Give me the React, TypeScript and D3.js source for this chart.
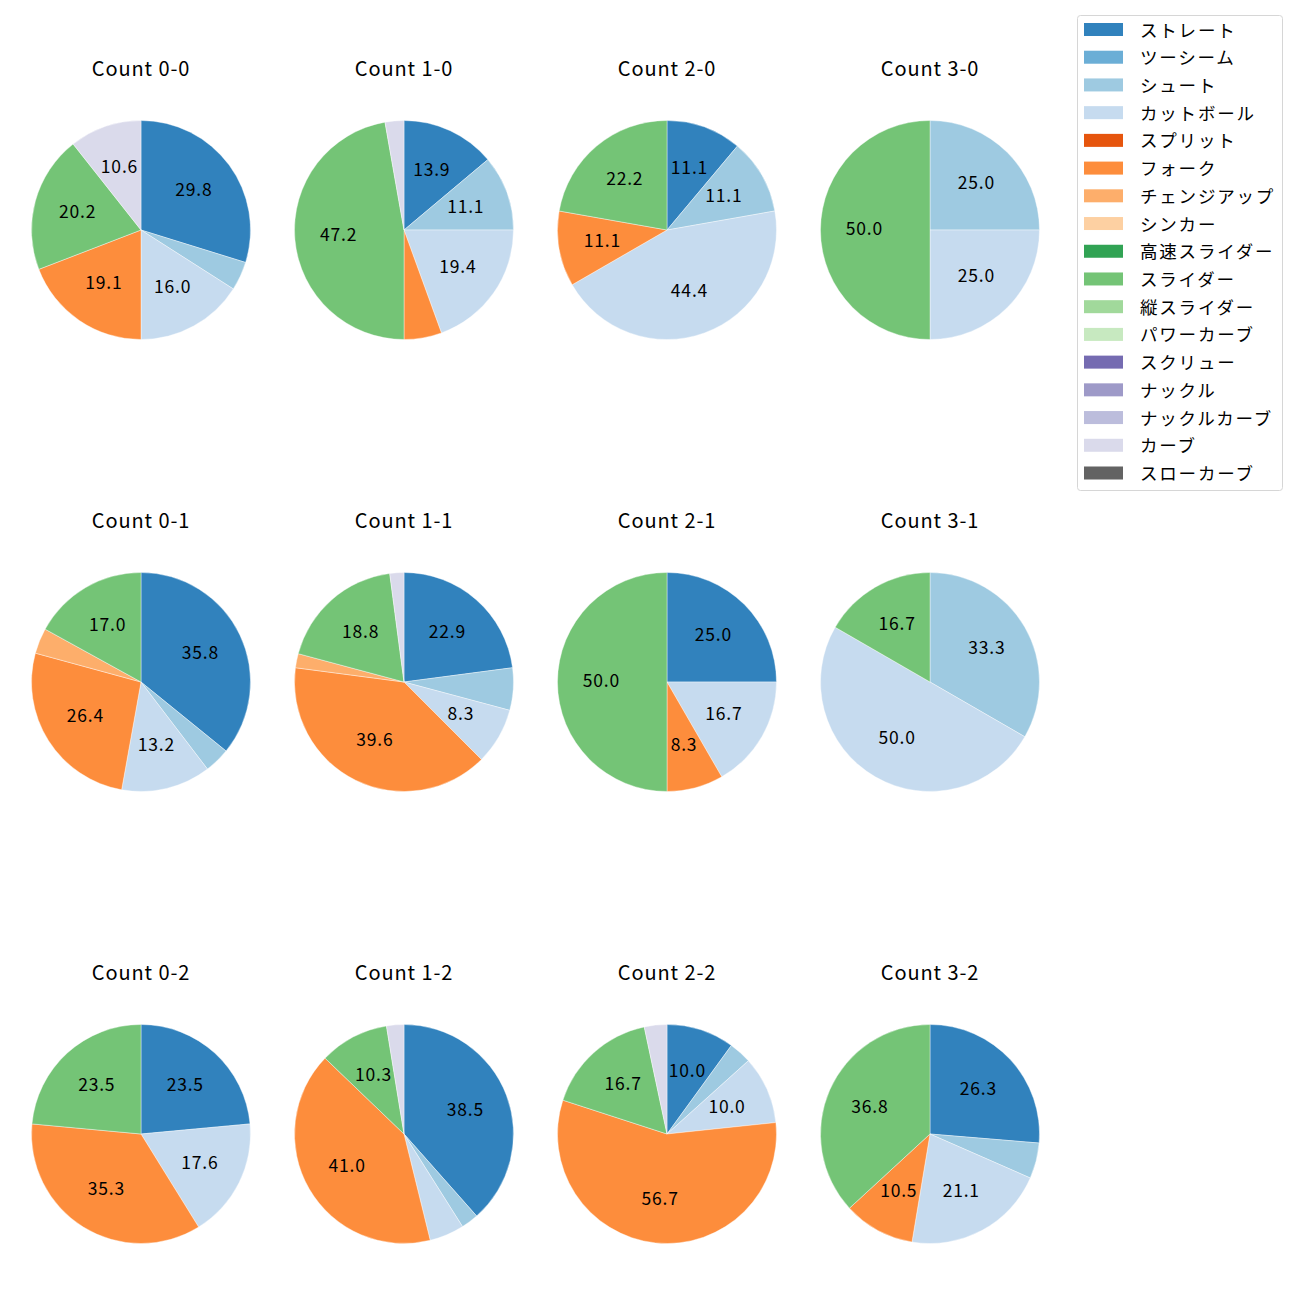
import { useRef, useEffect } from 'react';
import * as d3 from 'd3';

const PITCH_TYPES = [
  'ストレート', 'ツーシーム', 'シュート', 'カットボール', 'スプリット', 'フォーク',
  'チェンジアップ', 'シンカー', '高速スライダー', 'スライダー', '縦スライダー',
  'パワーカーブ', 'スクリュー', 'ナックル', 'ナックルカーブ', 'カーブ', 'スローカーブ',
];

const PITCH_COLORS = [
  '#3182bd', '#6baed6', '#9ecae1', '#c6dbef', '#e6550d', '#fd8d3c',
  '#fdae6b', '#fdd0a2', '#31a354', '#74c476', '#a1d99b',
  '#c7e9c0', '#756bb1', '#9e9ac8', '#bcbddc', '#dadaeb', '#636363',
];

// pitch counts per ball-strike count, same order as PITCH_TYPES
//                 St Two Shu Cut Spl For Chg Sin HSl Sli VSl PCu Scr Knu KCu Cur SCu
const COUNT_0_0 = [28, 0, 4, 15, 0, 18, 0, 0, 0, 19, 0, 0, 0, 0, 0, 10, 0];
const COUNT_1_0 = [5, 0, 4, 7, 0, 2, 0, 0, 0, 17, 0, 0, 0, 0, 0, 1, 0];
const COUNT_2_0 = [1, 0, 1, 4, 0, 1, 0, 0, 0, 2, 0, 0, 0, 0, 0, 0, 0];
const COUNT_3_0 = [0, 0, 1, 1, 0, 0, 0, 0, 0, 2, 0, 0, 0, 0, 0, 0, 0];
const COUNT_0_1 = [19, 0, 2, 7, 0, 14, 2, 0, 0, 9, 0, 0, 0, 0, 0, 0, 0];
const COUNT_1_1 = [11, 0, 3, 4, 0, 19, 1, 0, 0, 9, 0, 0, 0, 0, 0, 1, 0];
const COUNT_2_1 = [3, 0, 0, 2, 0, 1, 0, 0, 0, 6, 0, 0, 0, 0, 0, 0, 0];
const COUNT_3_1 = [0, 0, 2, 3, 0, 0, 0, 0, 0, 1, 0, 0, 0, 0, 0, 0, 0];
const COUNT_0_2 = [4, 0, 0, 3, 0, 6, 0, 0, 0, 4, 0, 0, 0, 0, 0, 0, 0];
const COUNT_1_2 = [15, 0, 1, 2, 0, 16, 0, 0, 0, 4, 0, 0, 0, 0, 0, 1, 0];
const COUNT_2_2 = [3, 0, 1, 3, 0, 17, 0, 0, 0, 5, 0, 0, 0, 0, 0, 1, 0];
const COUNT_3_2 = [5, 0, 1, 4, 0, 2, 0, 0, 0, 7, 0, 0, 0, 0, 0, 0, 0];

const PANELS = [
  { title: 'Count 0-0', values: COUNT_0_0 },
  { title: 'Count 1-0', values: COUNT_1_0 },
  { title: 'Count 2-0', values: COUNT_2_0 },
  { title: 'Count 3-0', values: COUNT_3_0 },
  { title: 'Count 0-1', values: COUNT_0_1 },
  { title: 'Count 1-1', values: COUNT_1_1 },
  { title: 'Count 2-1', values: COUNT_2_1 },
  { title: 'Count 3-1', values: COUNT_3_1 },
  { title: 'Count 0-2', values: COUNT_0_2 },
  { title: 'Count 1-2', values: COUNT_1_2 },
  { title: 'Count 2-2', values: COUNT_2_2 },
  { title: 'Count 3-2', values: COUNT_3_2 },
];

const FONT = '"Noto Sans CJK JP", "Noto Sans", sans-serif';

export default function App() {
  const svgRef = useRef<SVGSVGElement>(null);

  useEffect(() => {
    if (!svgRef.current) return;
    const width = 1300;
    const height = 1300;
    const svg = d3.select(svgRef.current);
    svg.selectAll('*').remove();
    svg.attr('width', width).attr('height', height).attr('viewBox', `0 0 ${width} ${height}`);

    const colX = d3.scalePoint<number>().domain([0, 1, 2, 3]).range([141, 930]);
    const rowY = d3.scalePoint<number>().domain([0, 1, 2]).range([230, 1134]);
    const r = 109.5;

    const pie = d3.pie<number>().sort(null).value(d => d);
    const arc = d3.arc<d3.PieArcDatum<number>>().innerRadius(0).outerRadius(r);

    PANELS.forEach((panel, i) => {
      const cx = colX(i % 4) ?? 0;
      const cy = rowY(Math.floor(i / 4)) ?? 0;
      const total = d3.sum(panel.values);
      const arcs = pie(panel.values).map((a, k) => ({ ...a, k })).filter(a => a.value > 0);

      const g = svg.append('g').attr('transform', `translate(${cx},${cy})`);

      g.selectAll('path')
        .data(arcs)
        .join('path')
        .attr('d', d => arc(d) ?? '')
        .attr('fill', d => PITCH_COLORS[d.k])
        .attr('stroke', '#fff')
        .attr('stroke-width', 0.4);

      // percentage labels, small slices left unlabeled
      g.selectAll('text.pct')
        .data(arcs.filter(d => (d.value / total) * 100 >= 7))
        .join('text')
        .attr('class', 'pct')
        .attr('x', d => Math.sin((d.startAngle + d.endAngle) / 2) * r * 0.6)
        .attr('y', d => -Math.cos((d.startAngle + d.endAngle) / 2) * r * 0.6)
        .attr('dy', '0.3em')
        .attr('text-anchor', 'middle')
        .attr('font-family', FONT)
        .attr('font-size', '17.5px')
        .attr('letter-spacing', '0.8px')
        .attr('fill', '#000')
        .text(d => ((d.value / total) * 100).toFixed(1));

      svg.append('text')
        .attr('x', cx)
        .attr('y', cy - 161)
        .attr('dy', '0.36em')
        .attr('text-anchor', 'middle')
        .attr('font-family', FONT)
        .attr('font-size', '20px')
        .attr('letter-spacing', '0.9px')
        .attr('fill', '#000')
        .text(panel.title);
    });

    // Legend
    const legend = svg.append('g');
    legend.append('rect')
      .attr('x', 1077.5).attr('y', 15.5)
      .attr('width', 205).attr('height', 475)
      .attr('rx', 3)
      .attr('fill', '#fff')
      .attr('stroke', '#d6d6d6');

    const ly = d3.scaleLinear().domain([0, PITCH_TYPES.length - 1]).range([29.5, 473]);
    PITCH_TYPES.forEach((name, k) => {
      legend.append('rect')
        .attr('x', 1084).attr('y', ly(k) - 6.5)
        .attr('width', 39).attr('height', 13)
        .attr('fill', PITCH_COLORS[k]);
      legend.append('text')
        .attr('x', 1140).attr('y', ly(k) - 0.5)
        .attr('dominant-baseline', 'central')
        .attr('font-family', FONT)
        .attr('font-size', '17.5px')
        .attr('letter-spacing', '1.8px')
        .attr('fill', '#000')
        .text(name);
    });
  }, []);

  return <svg ref={svgRef} style={{ position: 'absolute', left: 0, top: 0 }} />;
}
